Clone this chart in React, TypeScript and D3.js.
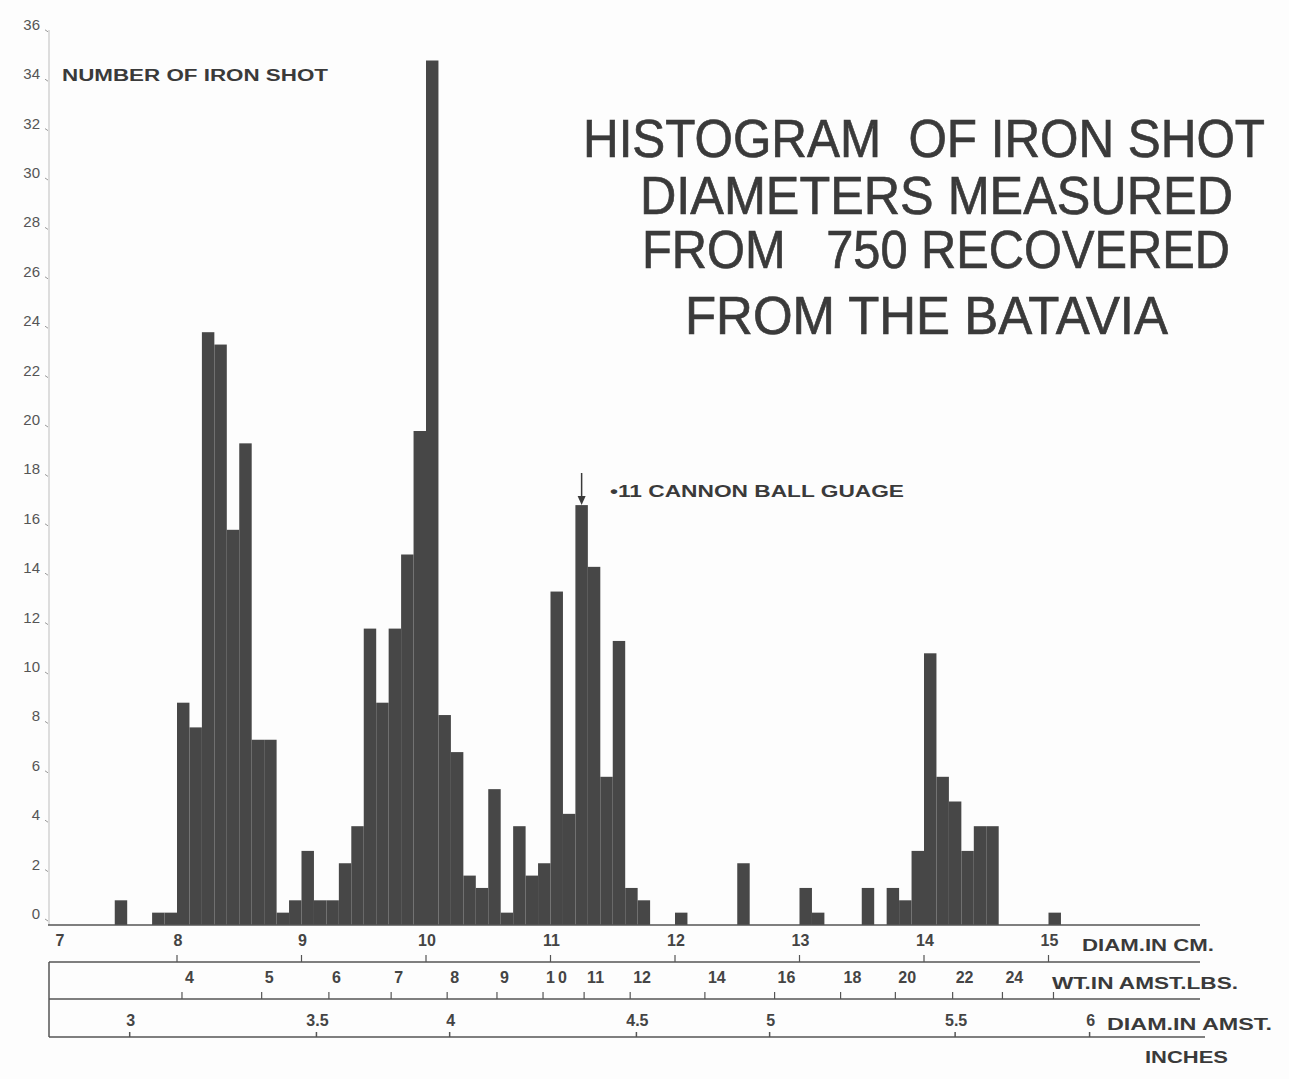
import React from "react";
import * as d3 from "d3";

// Bin starts (cm), 0.1 cm wide bins
const binStarts = [
  7.5, 7.6, 7.7, 7.8, 7.9, 8.0, 8.1, 8.2, 8.3, 8.4, 8.5, 8.6, 8.7, 8.8, 8.9,
  9.0, 9.1, 9.2, 9.3, 9.4, 9.5, 9.6, 9.7, 9.8, 9.9, 10.0, 10.1, 10.2, 10.3, 10.4,
  10.5, 10.6, 10.7, 10.8, 10.9, 11.0, 11.1, 11.2, 11.3, 11.4, 11.5, 11.6, 11.7, 11.8, 11.9,
  12.0, 12.1, 12.2, 12.3, 12.4, 12.5, 12.6, 12.7, 12.8, 12.9, 13.0, 13.1, 13.2, 13.3, 13.4,
  13.5, 13.6, 13.7, 13.8, 13.9, 14.0, 14.1, 14.2, 14.3, 14.4, 14.5, 14.6, 14.7, 14.8, 14.9, 15.0,
];
const counts = [
  1, 0, 0, 0.5, 0.5, 9, 8, 24, 23.5, 16, 19.5, 7.5, 7.5, 0.5, 1,
  3, 1, 1, 2.5, 4, 12, 9, 12, 15, 20, 35, 8.5, 7, 2, 1.5,
  5.5, 0.5, 4, 2, 2.5, 13.5, 4.5, 17, 14.5, 6, 11.5, 1.5, 1, 0, 0,
  0.5, 0, 0, 0, 0, 2.5, 0, 0, 0, 0, 1.5, 0.5, 0, 0, 0,
  1.5, 0, 1.5, 1, 3, 11, 6, 5, 3, 4, 4, 0, 0, 0, 0, 0.5,
];

const yTicks = [0, 2, 4, 6, 8, 10, 12, 14, 16, 18, 20, 22, 24, 26, 28, 30, 32, 34, 36];
const cmTicks = [7, 8, 9, 10, 11, 12, 13, 14, 15];
// Weight (Amsterdam lbs) ticks and their positions in cm
const wtLabels = ["4", "5", "6", "7", "8", "9", "10", "11", "12", "14", "16", "18", "20", "22", "24", ""];
const wtAtCm = [8.04, 8.68, 9.22, 9.72, 10.17, 10.57, 10.94, 11.27, 11.64, 12.24, 12.8, 13.33, 13.77, 14.23, 14.63, 15.04];
// Amsterdam inch ticks and their positions in cm
const inLabels = ["3", "3.5", "4", "4.5", "5", "5.5", "6"];
const inAtCm = [7.62, 9.12, 10.19, 11.69, 12.76, 14.25, 15.33];

const titleLines = [
  "HISTOGRAM  OF IRON SHOT",
  "DIAMETERS MEASURED",
  "FROM   750 RECOVERED",
  "FROM THE BATAVIA",
];

export default function App() {
  const x = d3.scaleLinear().domain([7, 15]).range([52.5, 1048.5]);
  const y = d3.scaleLinear().domain([0, 36]).range([925, 925 - 36 * 24.7]);
  const barColor = "#474747";
  const ink = "#3a3a3a";
  const font = "'Liberation Sans', Arial, sans-serif";

  const titleGeom = [
    { x1: 583, x2: 1265, base: 157 },
    { x1: 640, x2: 1233, base: 214 },
    { x1: 642, x2: 1230, base: 268 },
    { x1: 685, x2: 1168, base: 334 },
  ];

  const peakCm = 11.25;

  return (
    <svg
      width={1289}
      height={1079}
      style={{ position: "absolute", left: 0, top: 0, background: "#fff" }}
      fontFamily={font}
    >
      <rect width={1289} height={1079} fill="#fdfdfd" />
      {/* y axis */}
      <line x1={49} x2={49} y1={30} y2={925} stroke="#c8c8c8" strokeWidth={1.2} />
      {yTicks.map((v) => (
        <g key={v}>
          <text
            x={40}
            y={y(v) - 10}
            textAnchor="end"
            dominantBaseline="middle"
            fontSize={15}
            fill="#555"
          >
            {v}
          </text>
          <line x1={45} x2={48} y1={y(v) - 6} y2={y(v) - 4} stroke="#999" strokeWidth={1} />
        </g>
      ))}
      <text x={62} y={81} fontSize={16} fontWeight={700} fill={ink} textLength={266} lengthAdjust="spacingAndGlyphs">
        NUMBER OF IRON SHOT
      </text>

      {/* bars */}
      {binStarts.map((b, i) =>
        counts[i] > 0 ? (
          <rect
            key={b}
            x={x(b)}
            width={x(b + 0.1) - x(b)}
            y={y(counts[i])}
            height={y(0) - y(counts[i])}
            fill={barColor}
          />
        ) : null
      )}

      {/* baseline */}
      <line x1={48} x2={1200} y1={925} y2={925} stroke="#555" strokeWidth={1.5} />

      {/* annotation */}
      <line x1={x(peakCm)} x2={x(peakCm)} y1={473} y2={498} stroke={ink} strokeWidth={1.5} />
      <path
        d={`M${x(peakCm) - 4},${496} L${x(peakCm) + 4},${496} L${x(peakCm)},${505} Z`}
        fill={ink}
      />
      <text x={610} y={497} fontSize={16} fontWeight={700} fill={ink} textLength={294} lengthAdjust="spacingAndGlyphs">
        •11 CANNON BALL GUAGE
      </text>

      {/* title */}
      {titleLines.map((t, i) => (
        <g key={t} transform={`translate(${titleGeom[i].x1},${titleGeom[i].base}) scale(1,1.15)`}>
          <text
            x={0}
            y={0}
            fontSize={47}
            fill={ink}
            stroke={ink}
            strokeWidth={0.6}
            style={{ whiteSpace: "pre" }}
            textLength={titleGeom[i].x2 - titleGeom[i].x1}
            lengthAdjust="spacingAndGlyphs"
          >
            {t}
          </text>
        </g>
      ))}

      {/* bottom scales */}
      <g stroke="#555" strokeWidth={1.5}>
        <line x1={49} x2={1200} y1={962} y2={962} />
        <line x1={49} x2={1200} y1={999} y2={999} />
        <line x1={49} x2={1205} y1={1037} y2={1037} />
        <line x1={49} x2={49} y1={962} y2={1037} />
      </g>

      {cmTicks.map((c) => (
        <g key={c}>
          {c > 7 && <line x1={x(c)} x2={x(c)} y1={955} y2={962} stroke="#555" strokeWidth={1.2} />}
          <text
            x={c === 7 ? 60 : x(c) + 1}
            y={942}
            textAnchor="middle"
            dominantBaseline="middle"
            fontSize={16}
            fontWeight={700}
            fill="#444"
          >
            {c}
          </text>
        </g>
      ))}
      <text x={1082} y={951} fontSize={16} fontWeight={700} fill={ink} textLength={132} lengthAdjust="spacingAndGlyphs">
        DIAM.IN CM.
      </text>

      {wtAtCm.map((c, i) => (
        <g key={"w" + i}>
          <line x1={x(c)} x2={x(c)} y1={992} y2={999} stroke="#555" strokeWidth={1.2} />
          {wtLabels[i] && (
            <text
              x={x(c) + 3}
              y={979}
              dominantBaseline="middle"
              fontSize={16}
              fontWeight={700}
              fill="#444"
              letterSpacing={wtLabels[i] === "10" ? 3 : 0}
            >
              {wtLabels[i]}
            </text>
          )}
        </g>
      ))}
      <text x={1052} y={989} fontSize={16} fontWeight={700} fill={ink} textLength={186} lengthAdjust="spacingAndGlyphs">
        WT.IN AMST.LBS.
      </text>

      {inAtCm.map((c, i) => (
        <g key={"i" + i}>
          <line x1={x(c)} x2={x(c)} y1={1032} y2={1037} stroke="#555" strokeWidth={1.5} />
          <text
            x={x(c) + 1}
            y={1022}
            textAnchor="middle"
            dominantBaseline="middle"
            fontSize={16}
            fontWeight={700}
            fill="#444"
          >
            {inLabels[i]}
          </text>
        </g>
      ))}
      <text x={1107} y={1030} fontSize={16} fontWeight={700} fill={ink} textLength={165} lengthAdjust="spacingAndGlyphs">
        DIAM.IN AMST.
      </text>
      <text x={1145} y={1063} fontSize={16} fontWeight={700} fill={ink} textLength={83} lengthAdjust="spacingAndGlyphs">
        INCHES
      </text>
    </svg>
  );
}
